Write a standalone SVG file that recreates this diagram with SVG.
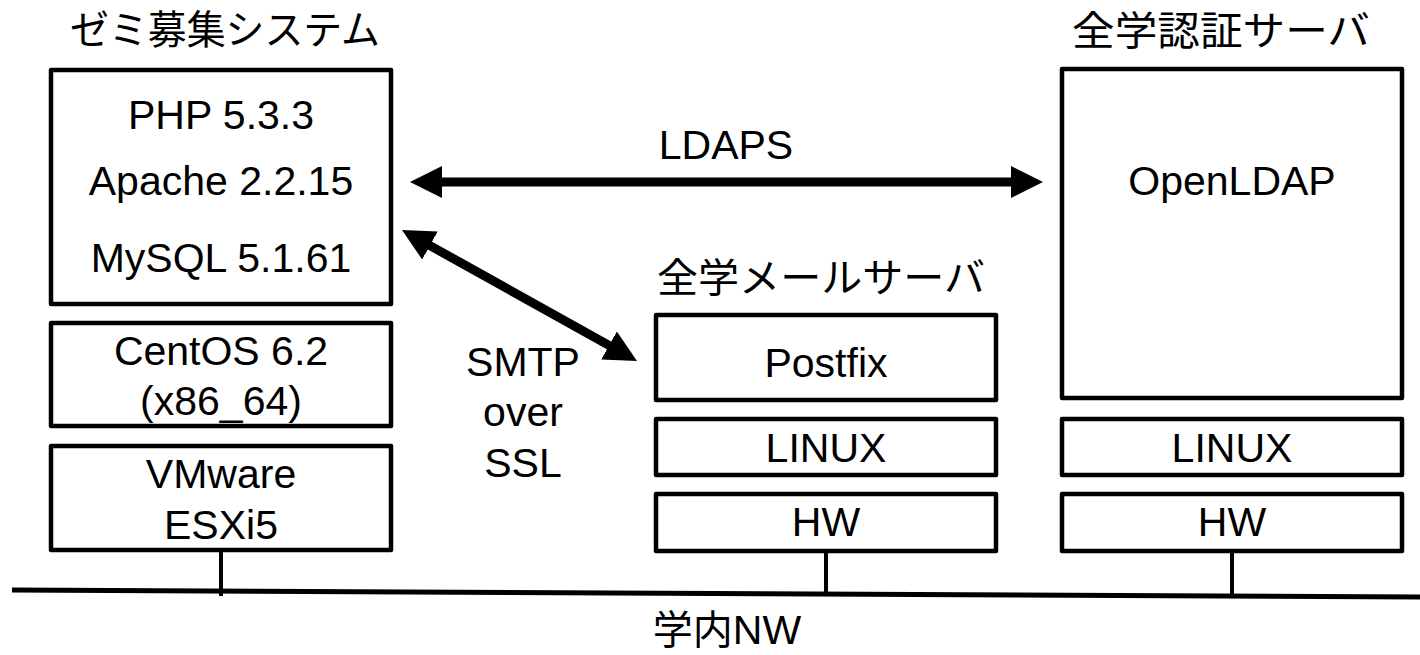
<svg xmlns="http://www.w3.org/2000/svg" width="1420" height="655" viewBox="0 0 1420 655">
<style>
.box{fill:#fff;stroke:#000;stroke-width:4.5;stroke-linejoin:round}
.t{font-family:"Liberation Sans",Arial,"Noto Sans CJK JP",sans-serif;font-size:41px;fill:#000;text-anchor:middle}
.j{font-family:"Noto Sans CJK JP","Liberation Sans",sans-serif;font-size:40px;fill:#000;text-anchor:middle}
.arr{stroke:#000;stroke-width:9;fill:none}
.wire{stroke:#000;stroke-width:4;fill:none}
</style>
<defs>
<marker id="head" markerUnits="userSpaceOnUse" markerWidth="34" markerHeight="32" viewBox="0 0 34 32" refX="2" refY="16" orient="auto-start-reverse">
<path d="M0,0 L32,16 L0,32 z" fill="#000"/>
</marker>
</defs>
<rect width="1420" height="655" fill="#fff"/>

<g id="seminar-system">
<text class="j" x="225" y="44" textLength="310" lengthAdjust="spacingAndGlyphs">ゼミ募集システム</text>
<rect class="box" x="51" y="70" width="340" height="234"/>
<text class="t" x="221" y="129">PHP 5.3.3</text>
<text class="t" x="221" y="195">Apache 2.2.15</text>
<text class="t" x="221" y="272">MySQL 5.1.61</text>
</g>
<g id="centos">
<rect class="box" x="51" y="323" width="340" height="103"/>
<text class="t" x="221" y="365">CentOS 6.2</text>
<text class="t" x="221" y="415">(x86_64)</text>
</g>
<g id="vmware">
<rect class="box" x="51" y="446" width="340" height="104"/>
<text class="t" x="221" y="488">VMware</text>
<text class="t" x="221" y="539">ESXi5</text>
</g>

<g id="mail-server">
<text class="j" x="821" y="292" textLength="328" lengthAdjust="spacingAndGlyphs">全学メールサーバ</text>
<rect class="box" x="656" y="315" width="340" height="85"/>
<text class="t" x="826" y="377">Postfix</text>
</g>
<g id="mail-linux">
<rect class="box" x="656" y="419" width="340" height="56"/>
<text class="t" x="826" y="462">LINUX</text>
</g>
<g id="mail-hw">
<rect class="box" x="656" y="494" width="340" height="57"/>
<text class="t" x="826" y="536">HW</text>
</g>

<g id="auth-server">
<text class="j" x="1221" y="45" textLength="298" lengthAdjust="spacingAndGlyphs">全学認証サーバ</text>
<rect class="box" x="1062" y="69" width="340" height="329"/>
<text class="t" x="1232" y="195">OpenLDAP</text>
</g>
<g id="auth-linux">
<rect class="box" x="1062" y="419" width="340" height="56"/>
<text class="t" x="1232" y="462">LINUX</text>
</g>
<g id="auth-hw">
<rect class="box" x="1062" y="494" width="340" height="57"/>
<text class="t" x="1232" y="536">HW</text>
</g>

<g id="network">
<line x1="12" y1="590" x2="1420" y2="597" stroke="#000" stroke-width="5"/>
<text class="j" x="727" y="644"><tspan>学内</tspan><tspan font-family="Liberation Sans" font-size="41px">NW</tspan></text>
</g>

<g id="connectors">
<line class="arr" x1="440" y1="182" x2="1013" y2="182" marker-start="url(#head)" marker-end="url(#head)"/>
<line class="arr" x1="428.2" y1="244.6" x2="610.8" y2="346.4" marker-start="url(#head)" marker-end="url(#head)"/>
<line class="wire" x1="221" y1="550" x2="221" y2="596"/>
<line class="wire" x1="826" y1="551" x2="826" y2="595"/>
<line class="wire" x1="1232" y1="551" x2="1232" y2="596"/>
<text class="t" x="726" y="159">LDAPS</text>
<text class="t" x="523" y="376">SMTP</text>
<text class="t" x="523" y="426">over</text>
<text class="t" x="523" y="477">SSL</text>
</g>
</svg>
